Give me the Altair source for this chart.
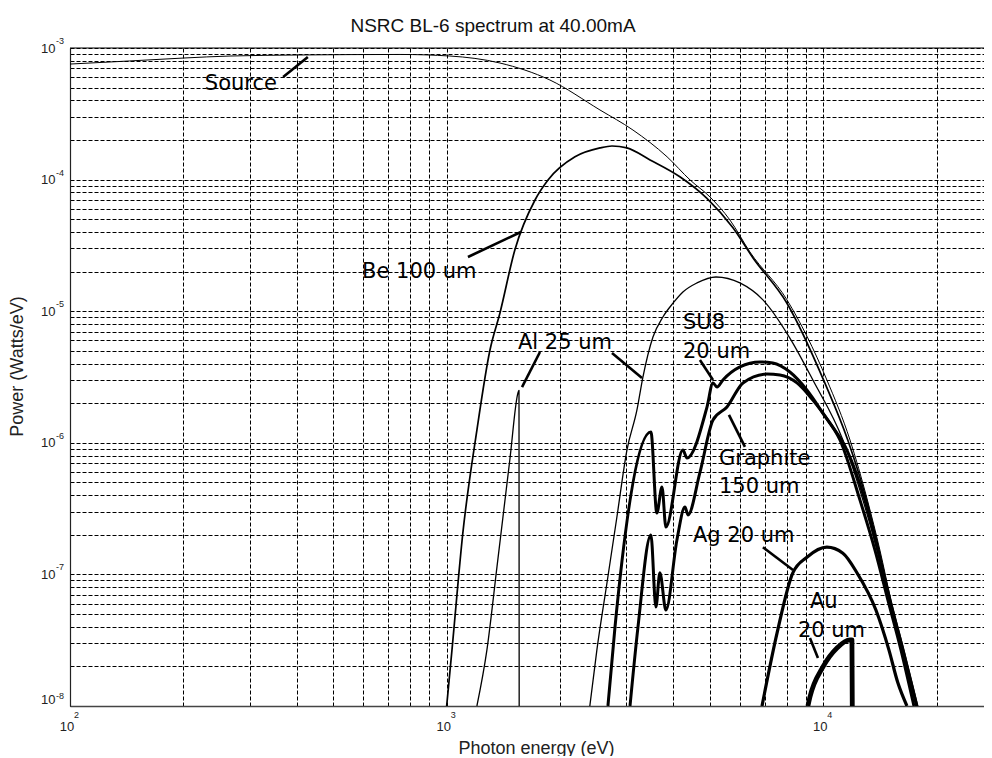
import altair as alt
import pandas as pd

# ---------------- data ----------------
# Source spectrum
src_e = [100, 144, 200, 266, 408, 752, 1020, 1385, 1880, 2553, 3123, 3847, 4429, 5001,
         5650, 6383, 8005, 10220, 11770, 13090, 14130, 15120, 16370, 17830]
src_p = [7.55e-4, 7.97e-4, 8.39e-4, 8.69e-4, 8.85e-4, 8.93e-4, 8.69e-4, 7.69e-4, 5.71e-4,
         3.38e-4, 2.38e-4, 1.49e-4, 9.93e-5, 7.38e-5, 4.93e-5, 2.82e-5, 1.22e-5, 3.0e-6,
         1.05e-6, 3.67e-7, 1.53e-7, 6.38e-8, 2.67e-8, 1.0e-8]

# Be 100 um
be_e = [1000, 1033, 1104, 1203, 1303, 1385, 1517, 1716, 1858, 2191, 2553, 2747, 3010, 3467,
        4159, 4909, 5755, 6500, 8005, 10090, 11610, 13020, 14050, 15030, 16270, 17720]
be_p = [1e-8, 2.67e-8, 2.07e-7, 1.25e-6, 5.07e-6, 9.7e-6, 2.92e-5, 7.0e-5, 9.93e-5, 1.49e-4,
        1.74e-4, 1.80e-4, 1.74e-4, 1.41e-4, 1.05e-4, 7.2e-5, 4.3e-5, 2.55e-5, 1.15e-5,
        2.85e-6, 1.05e-6, 3.67e-7, 1.53e-7, 6.38e-8, 2.67e-8, 1e-8]

# Al 25 um (below and above the K edge)
al1_e = [1203, 1279, 1360, 1472, 1546, 1556, 1558]
al1_p = [1e-8, 2.67e-8, 1.14e-7, 7.53e-7, 2.39e-6, 2.5e-6, 5e-9]
al2_e = [2399, 2505, 2664, 2831, 3010, 3199, 3319, 3529, 3750, 3988, 4238, 4618, 5188, 6005,
         6912, 8150, 9380, 11270, 12740, 13880, 14930, 16170, 17610]
al2_p = [1e-8, 2.67e-8, 8.6e-8, 2.73e-7, 8.8e-7, 1.77e-6, 3.16e-6, 6.37e-6, 9.04e-6, 1.15e-5,
         1.40e-5, 1.64e-5, 1.82e-5, 1.64e-5, 1.22e-5, 6.25e-6, 3.0e-6, 1.05e-6, 3.67e-7,
         1.53e-7, 6.38e-8, 2.67e-8, 1e-8]

# SU8 20 um
su8_e = [2680, 2798, 3485, 3614, 3729, 3820, 4237, 4345, 4910, 5094, 5220, 5413, 6005, 6788,
         7345, 8150, 9040, 9970, 11070, 12510, 13710, 14840, 16070, 17400]
su8_p = [1e-8, 3.98e-8, 1.21e-6, 2.93e-7, 4.62e-7, 2.29e-7, 8.8e-7, 7.66e-7, 1.87e-6, 2.85e-6,
         2.65e-6, 3.0e-6, 3.77e-6, 4.11e-6, 4.04e-6, 3.45e-6, 2.52e-6, 1.68e-6, 1.05e-6,
         3.67e-7, 1.53e-7, 6.38e-8, 2.67e-8, 1e-8]

# Graphite 150 um
gr_e = [3067, 3220, 3485, 3593, 3681, 3820, 4085, 4292, 4371, 4700, 5094, 5548, 6118, 7080,
        7670, 8510, 9380, 10410, 11550, 12890, 13960, 15030, 16270, 17720]
gr_p = [1e-8, 3.98e-8, 1.99e-7, 5.65e-8, 1.03e-7, 5.36e-8, 1.82e-7, 3.25e-7, 2.83e-7, 5.9e-7,
        1.49e-6, 1.87e-6, 2.85e-6, 3.33e-6, 3.27e-6, 2.85e-6, 2.11e-6, 1.41e-6, 8.8e-7,
        3.67e-7, 1.53e-7, 6.38e-8, 2.67e-8, 1e-8]

# Ag 20 um
ag_e = [6873, 7537, 8304, 9046, 10220, 11270, 12280, 13790, 14930, 15770, 16670]
ag_p = [1e-8, 3.59e-8, 1.03e-7, 1.35e-7, 1.61e-7, 1.45e-7, 1.03e-7, 5.36e-8, 2.67e-8,
        1.5e-8, 1e-8]

# Au 20 um
au_e = [9100, 9213, 9975, 10870, 11770, 11910, 11950]
au_p = [1e-8, 1.17e-8, 1.98e-8, 2.76e-8, 3.18e-8, 3.18e-8, 5e-9]

series_names = ["Source", "Be", "Al_a", "Al_b", "SU8", "Graphite", "Ag", "Au"]
series_e = [src_e, be_e, al1_e, al2_e, su8_e, gr_e, ag_e, au_e]
series_p = [src_p, be_p, al1_p, al2_p, su8_p, gr_p, ag_p, au_p]
series_w = [1.0, 1.7, 1.3, 1.3, 3.0, 3.0, 3.2, 4.8]

# annotation labels (left edge / baseline in data units)
ann_text = ["Source", "Be 100 um", "Al 25 um", "SU8", "20 um", "Graphite", "150 um",
            "Ag 20 um", "Au", "20 um"]
ann_e = [228, 596, 1546, 4240, 4240, 5284, 5284, 4506, 9213, 8560]
ann_p = [4.80e-4, 1.79e-5, 5.16e-6, 7.33e-6, 4.41e-6, 6.78e-7, 4.16e-7, 1.76e-7, 5.56e-8,
         3.34e-8]

# pointer segments
ptr_e1 = [368, 1139, 1769, 2747, 4703, 5615, 6912, 9213]
ptr_p1 = [6.02e-4, 2.58e-5, 4.9e-6, 4.81e-6, 4.26e-6, 1.63e-6, 1.61e-7, 3.29e-8]
ptr_e2 = [428, 1574, 1585, 3300, 5094, 6192, 8307, 9676]
ptr_p2 = [8.54e-4, 4.0e-5, 2.65e-6, 3.11e-6, 3.0e-6, 9.3e-7, 1.08e-7, 2.32e-8]

# axes ticks / labels
x_grid = [100, 200, 300, 400, 500, 600, 700, 800, 900,
          1000, 2000, 3000, 4000, 5000, 6000, 7000, 8000, 9000,
          10000, 20000]
y_grid = [m * 10.0 ** k for k in range(-8, -3) for m in range(1, 10)] + [1e-3]
x_exp_pos = [100, 1000, 10000]
x_exp_text = ["2", "3", "4"]
y_exp_pos = [1e-7, 1e-6, 1e-5, 1e-4, 1e-3]
y_exp_text = ["-7", "-6", "-5", "-4", "-3"]
y_exp_low_pos = [1e-8]
y_exp_low_text = ["-8"]

title_text = "NSRC BL-6 spectrum at 40.00mA"

# ---------------- build ----------------
rows = []
for name, es, ps, w in zip(series_names, series_e, series_p, series_w):
    for i, (e, p) in enumerate(zip(es, ps)):
        rows.append({"series": name, "E": e, "P": p, "i": i, "w": w})
df = pd.DataFrame(rows)

W, H = 914, 658
AX_FONT = "Liberation Sans"
ANN_FONT = "DejaVu Sans"

x_scale = alt.Scale(type="log", domain=[100, 26700], nice=False)
y_scale = alt.Scale(type="log", domain=[1e-8, 1e-3], nice=False)

pow_expr = "abs(log(datum.value)/LN10 - round(log(datum.value)/LN10)) < 0.001 ? '10' : ''"

x_axis = alt.Axis(
    values=x_grid, labelExpr=pow_expr, grid=True, gridColor="black", gridDash=[4, 2],
    gridOpacity=1, gridWidth=1, ticks=False, tickSize=0, domain=True,
    domainColor="#444", domainWidth=1.5, labelFont=AX_FONT, labelFontSize=13,
    labelColor="#222", labelPadding=14, labelOffset=-3.5, labelAlign="center",
    labelOverlap=False, labelFlush=False, labelBound=False,
    title="Photon energy (eV)", titleFont=AX_FONT, titleFontSize=18,
    titleFontWeight="normal", titleColor="#222", titleX=466, titleY=47,
    titleBaseline="alphabetic", titleAlign="center",
)
y_axis = alt.Axis(
    values=y_grid, labelExpr=pow_expr, grid=True, gridColor="black", gridDash=[4, 2],
    gridOpacity=1, gridWidth=1, ticks=False, tickSize=0, domain=True,
    domainColor="#222", domainWidth=1.2, labelFont=AX_FONT, labelFontSize=13,
    labelColor="#222", labelPadding=15, labelAlign="right",
    labelBaseline={"condition": {"test": "datum.value < 2e-8", "value": "bottom"},
                   "value": "middle"},
    labelOverlap=False, labelFlush=False, labelBound=False,
    title="Power (Watts/eV)", titleFont=AX_FONT, titleFontSize=18,
    titleFontWeight="normal", titleColor="#222", titleX=-53, titleY=318,
    titleAngle=270, titleBaseline="middle", titleAlign="center",
)

lines = alt.Chart(df).mark_line(
    clip=True, color="black", interpolate="monotone", strokeJoin="round"
).encode(
    x=alt.X("E:Q", scale=x_scale, axis=x_axis),
    y=alt.Y("P:Q", scale=y_scale, axis=y_axis),
    detail="series:N",
    order="i:Q",
    strokeWidth=alt.StrokeWidth("w:Q", scale=None),
)

ann = alt.Chart(pd.DataFrame({"E": ann_e, "P": ann_p, "t": ann_text})).mark_text(
    align="left", baseline="alphabetic", font=ANN_FONT, fontSize=21, color="black"
).encode(
    x=alt.X("E:Q", scale=x_scale, axis=x_axis),
    y=alt.Y("P:Q", scale=y_scale, axis=y_axis),
    text="t:N",
)

ptr = alt.Chart(pd.DataFrame({"E": ptr_e1, "P": ptr_p1, "E2": ptr_e2, "P2": ptr_p2})).mark_rule(
    color="black", strokeWidth=2.6
).encode(
    x=alt.X("E:Q", scale=x_scale, axis=x_axis),
    x2="E2:Q",
    y=alt.Y("P:Q", scale=y_scale, axis=y_axis),
    y2="P2:Q",
)

x_exp = alt.Chart(pd.DataFrame({"E": x_exp_pos, "t": x_exp_text})).mark_text(
    align="left", baseline="alphabetic", font=AX_FONT, fontSize=9, color="#222", dx=4
).encode(
    x=alt.X("E:Q", scale=x_scale, axis=x_axis),
    y=alt.value(H + 12),
    text="t:N",
)

y_exp = alt.Chart(pd.DataFrame({"P": y_exp_pos, "t": y_exp_text})).mark_text(
    align="left", baseline="alphabetic", font=AX_FONT, fontSize=9, color="#222", dy=-4
).encode(
    x=alt.value(-14),
    y=alt.Y("P:Q", scale=y_scale, axis=y_axis),
    text="t:N",
)

y_exp_low = alt.Chart(pd.DataFrame({"P": y_exp_low_pos, "t": y_exp_low_text})).mark_text(
    align="left", baseline="alphabetic", font=AX_FONT, fontSize=9, color="#222", dy=-7
).encode(
    x=alt.value(-14),
    y=alt.Y("P:Q", scale=y_scale, axis=y_axis),
    text="t:N",
)

top_border = alt.Chart(pd.DataFrame({"a": [0]})).mark_rule(color="black", strokeWidth=1.2).encode(
    x=alt.value(0), x2=alt.value(W), y=alt.value(0)
)

title = alt.Chart(pd.DataFrame({"t": [title_text]})).mark_text(
    align="center", baseline="alphabetic", font=AX_FONT, fontSize=19, color="#111"
).encode(
    x=alt.value(423), y=alt.value(-16), text="t:N"
)

chart = alt.layer(lines, ptr, ann, x_exp, y_exp, y_exp_low, top_border, title).properties(
    width=W, height=H,
    autosize=alt.AutoSizeParams(type="none"),
    padding={"left": 62, "top": 40, "right": 0, "bottom": 50},
    background="white",
).configure_view(stroke=None)

chart.save("out.html", embed_options={"renderer": "svg", "actions": False})
